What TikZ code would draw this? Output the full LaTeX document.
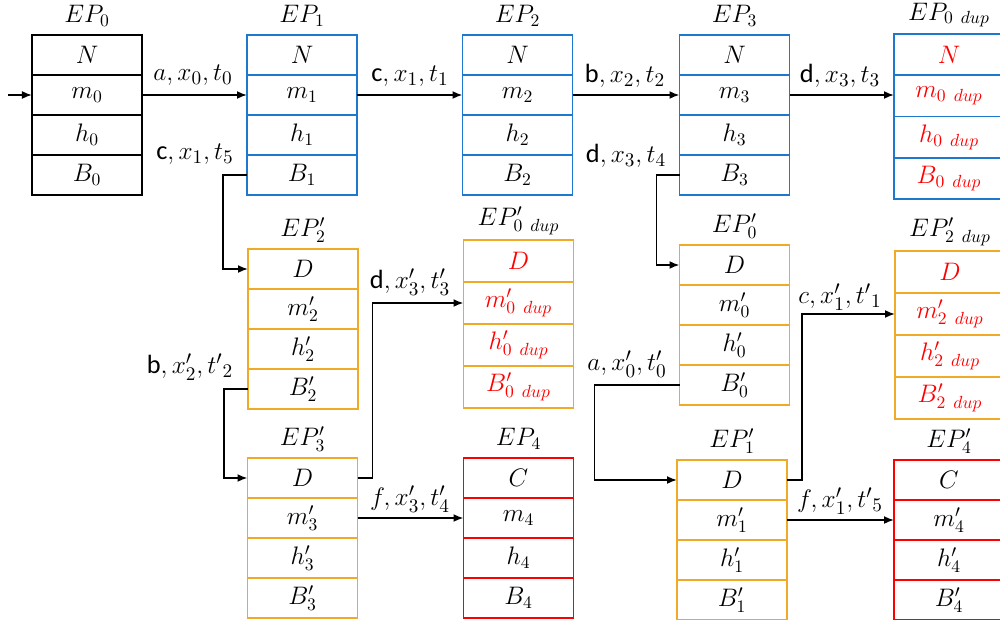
\documentclass[tikz,border=0pt]{standalone}
\usepackage{fontspec}
\newfontfamily\lblfont{Carlito}
\usetikzlibrary{arrows.meta}
\definecolor{epblue}{RGB}{30,120,205}
\definecolor{eporange}{RGB}{240,170,40}
\definecolor{epred}{RGB}{255,0,0}
\tikzset{
  cell/.style={draw, line width=1.1pt, minimum width=22mm, minimum height=8mm,
    inner sep=0pt, outer sep=0pt, font=\fontsize{14}{16}\selectfont},
  blackbox/.style={cell, draw=black},
  bluebox/.style={cell, draw=epblue},
  orangebox/.style={cell, draw=eporange},
  redbox/.style={cell, draw=epred},
  dupblue/.style={bluebox, text=epred, minimum height=8.25mm},
  duporange/.style={orangebox, text=epred, minimum height=8.4mm},
  eptitle/.style={font=\fontsize{14}{16}\selectfont, inner sep=0pt},
  elbl/.style={font=\fontsize{15}{17}\selectfont, inner sep=1pt},
  arr/.style={-{Latex[length=2mm,width=1.6mm]}, line width=1pt},
}
% one EP column: name, top centre, style, title, four rows
\newcommand{\epcol}[8]{%
  \node[#3, anchor=north] (#1-1) at (#2) {#5};
  \node[#3, anchor=north] (#1-2) at (#1-1.south) {#6};
  \node[#3, anchor=north] (#1-3) at (#1-2.south) {#7};
  \node[#3, anchor=north] (#1-4) at (#1-3.south) {#8};
  \node[eptitle] (#1-t) at ([yshift=3.8mm]#1-1.north) {#4};
}

\begin{document}
\begin{tikzpicture}[x=0.2mm,y=-0.2mm]
  \useasboundingbox (0,0) rectangle (1000,620);

  % top row
  \epcol{ep0}{87,35}{blackbox}{$EP_0$}{$N$}{$m_0$}{$h_0$}{$B_0$}
  \epcol{ep1}{302,35}{bluebox}{$EP_1$}{$N$}{$m_1$}{$h_1$}{$B_1$}
  \epcol{ep2}{517.5,35}{bluebox}{$EP_2$}{$N$}{$m_2$}{$h_2$}{$B_2$}
  \epcol{ep3}{734.5,35}{bluebox}{$EP_3$}{$N$}{$m_3$}{$h_3$}{$B_3$}
  \epcol{ep0d}{949,34}{dupblue}{$EP_{0\ dup}$}{$N$}{$m_{0\ dup}$}{$h_{0\ dup}$}{$B_{0\ dup}$}

  % middle row
  \epcol{ep2p}{303,249}{orangebox}{$EP'_2$}{$D$}{$m'_2$}{$h'_2$}{$B'_2$}
  \epcol{ep0pd}{518.5,240}{duporange}{$EP'_{0\ dup}$}{$D$}{$m'_{0\ dup}$}{$h'_{0\ dup}$}{$B'_{0\ dup}$}
  \epcol{ep0p}{734.5,245}{orangebox}{$EP'_0$}{$D$}{$m'_0$}{$h'_0$}{$B'_0$}
  \epcol{ep2pd}{950,251}{duporange}{$EP'_{2\ dup}$}{$D$}{$m'_{2\ dup}$}{$h'_{2\ dup}$}{$B'_{2\ dup}$}

  % bottom row
  \epcol{ep3p}{302.5,458}{orangebox}{$EP'_3$}{$D$}{$m'_3$}{$h'_3$}{$B'_3$}
  \epcol{ep4}{518.5,458}{redbox}{$EP_4$}{$C$}{$m_4$}{$h_4$}{$B_4$}
  \epcol{ep1p}{732,460}{orangebox}{$EP'_1$}{$D$}{$m'_1$}{$h'_1$}{$B'_1$}
  \epcol{ep4p}{949,460}{redbox}{$EP'_4$}{$C$}{$m'_4$}{$h'_4$}{$B'_4$}

  % straight transitions
  \coordinate (in) at (8,95);
  \draw[arr] (in) -- (ep0-2.west);
  \draw[arr] (ep0-2.east) -- (ep1-2.west);
  \draw[arr] (ep1-2.east) -- (ep2-2.west);
  \draw[arr] (ep2-2.east) -- (ep3-2.west);
  \draw[arr] (ep3-2.east) -- (ep3-2.east -| ep0d-2.west);
  \draw[arr] (ep3p-2.east) -- (ep4-2.west);
  \draw[arr] (ep1p-2.east) -- (ep4p-2.west);

  % elbow transitions
  \draw[arr] (ep1-4.west) -- ++(-24,0) |- (ep2p-1.west);
  \draw[arr] (ep3-4.west) -- ++(-23,0) |- (ep0p-1.west);
  \draw[arr] (ep2p-4.west) -- ++(-24,0) |- (ep3p-1.west);
  \draw[arr] (ep3p-1.east) -- ++(15,0) |- (ep0pd-2.west);
  \draw[arr] (ep0p-4.west) -- ++(-85,0) |- (ep1p-1.west);
  \draw[arr] (ep1p-1.east) -- ++(15,0) |- (ep2pd-2.west);

  % transition labels
  \node[elbl] (l01) at (193,75) {$a, x_0, t_0$};
  \node[elbl] (l12) at (410,76) {{\lblfont c}$, x_1, t_1$};
  \node[elbl] (l23) at (625,76) {{\lblfont b}$, x_2, t_2$};
  \node[elbl] (l34) at (840,76) {{\lblfont d}$, x_3, t_3$};
  \node[elbl] (l15) at (195,154) {{\lblfont c}$, x_1, t_5$};
  \node[elbl] (l34b) at (626,156) {{\lblfont d}$, x_3, t_4$};
  \node[elbl] (l2p) at (190,367) {{\lblfont b}$, x'_2, {t'}_2$};
  \node[elbl] (l3p) at (410,282) {{\lblfont d}$, x'_3, t'_3$};
  \node[elbl] (l0p) at (627,364) {$a, x'_0, t'_0$};
  \node[elbl] (l1p) at (840,297) {$c, x'_1, {t'}_1$};
  \node[elbl] (l4p) at (410,499) {$f, x'_3, t'_4$};
  \node[elbl] (l5p) at (840,501) {$f, x'_1, {t'}_5$};
\end{tikzpicture}
\end{document}
